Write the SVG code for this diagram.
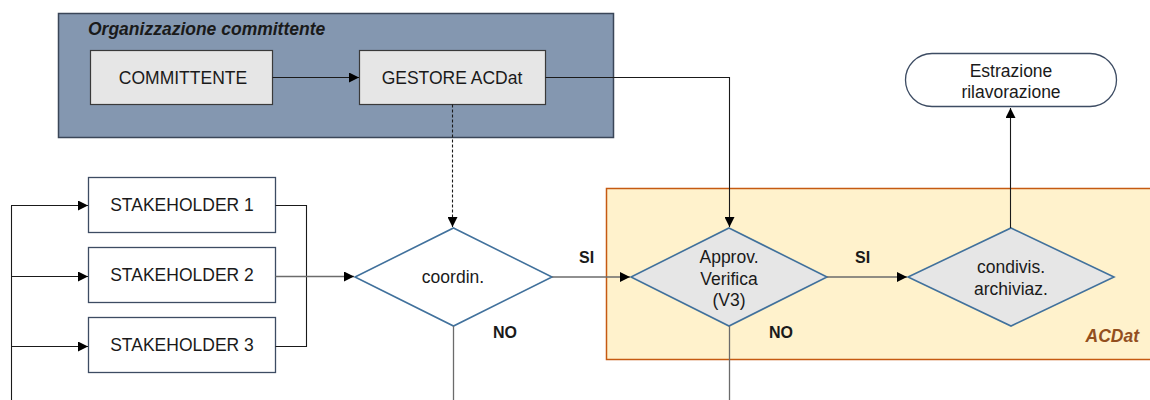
<svg xmlns="http://www.w3.org/2000/svg" width="1150" height="400" viewBox="0 0 1150 400">
<style>
text{font-family:"Liberation Sans",Arial,sans-serif;fill:#1a1a1a}
.t{font-size:17.5px;text-anchor:middle}
.b{font-size:16px;font-weight:bold}
.c{fill:none;stroke:#1a1a1a;stroke-width:1.1}
.g{fill:none;stroke:#6b6b6b;stroke-width:1.3}
.box{fill:#ffffff;stroke:#3d4c63;stroke-width:1.3}
.gbox{fill:#e6e6e6;stroke:#3a3a3a;stroke-width:1.2}
.dia{stroke:#41719c;stroke-width:1.6}
</style>
<defs>
<marker id="ah" viewBox="0 0 10 10" refX="10" refY="5" markerWidth="10" markerHeight="10" markerUnits="userSpaceOnUse" orient="auto">
<path d="M0,0 L10,5 L0,10 z" fill="#000"/>
</marker>
</defs>
<g id="acdat">
<rect x="606.5" y="188.5" width="560" height="171" fill="#fff2cc" stroke="#c55a11" stroke-width="1.5"/>
<text x="1139" y="342" style="font-size:17.5px;font-weight:bold;font-style:italic;fill:#934f1e;text-anchor:end">ACDat</text>
</g>
<g id="org">
<rect x="58.5" y="13.5" width="555" height="124" fill="#8497b0" stroke="#3a4658" stroke-width="1.5"/>
<text x="88" y="35" style="font-size:17.5px;font-weight:bold;font-style:italic">Organizzazione committente</text>
</g>
<g id="committente">
<rect class="gbox" x="90.5" y="50.5" width="182" height="54"/>
<text class="t" x="183" y="84">COMMITTENTE</text>
</g>
<g id="gestore">
<rect class="gbox" x="359.5" y="50.5" width="186" height="54"/>
<text class="t" x="452" y="84">GESTORE ACDat</text>
</g>
<g id="sh1">
<rect class="box" x="88.5" y="177.5" width="187" height="55"/>
<text class="t" x="182" y="211">STAKEHOLDER 1</text>
</g>
<g id="sh2">
<rect class="box" x="88.5" y="247.5" width="187" height="55"/>
<text class="t" x="182" y="281">STAKEHOLDER 2</text>
</g>
<g id="sh3">
<rect class="box" x="88.5" y="317.5" width="187" height="55"/>
<text class="t" x="182" y="351">STAKEHOLDER 3</text>
</g>
<g id="coordin">
<polygon class="dia" points="453.5,228 552,277 453.5,326 355,277" fill="#ffffff"/>
<text class="t" x="453" y="283">coordin.</text>
</g>
<g id="approv">
<polygon class="dia" points="729,228 827,277 729,326 631,277" fill="#e6e6e6"/>
<text class="t" x="729" y="263">Approv.</text>
<text class="t" x="729" y="284.5">Verifica</text>
<text class="t" x="729" y="306">(V3)</text>
</g>
<g id="condivis">
<polygon class="dia" points="1011,228 1114,277 1011,326 908,277" fill="#e6e6e6"/>
<text class="t" x="1011" y="273">condivis.</text>
<text class="t" x="1011" y="295">archiviaz.</text>
</g>
<g id="estrazione">
<rect x="905.5" y="53.5" width="211" height="53" rx="26.5" ry="26.5" fill="#ffffff" stroke="#3d4c63" stroke-width="1.3"/>
<text class="t" x="1011" y="77">Estrazione</text>
<text class="t" x="1011" y="98">rilavorazione</text>
</g>
<g id="connectors">
<path class="c" d="M272.5,77.5 H359" marker-end="url(#ah)"/>
<path class="c" d="M452.5,104.5 V227" stroke-dasharray="3,2" marker-end="url(#ah)"/>
<path class="c" d="M545.5,77.5 H729.5 V227" marker-end="url(#ah)"/>
<path class="c" d="M11.5,400 V205.5"/>
<path class="c" d="M11,205.5 H88" marker-end="url(#ah)"/>
<path class="c" d="M11,276.5 H88" marker-end="url(#ah)"/>
<path class="c" d="M11,346.5 H88" marker-end="url(#ah)"/>
<path class="c" d="M275.5,205.5 H306.5 V346.5 H275.5"/>
<path class="g" d="M275.5,276.5 H354" marker-end="url(#ah)"/>
<path class="g" d="M453.5,326 V400"/>
<path class="g" d="M552,277 H630" marker-end="url(#ah)"/>
<path class="g" d="M827,277 H907" marker-end="url(#ah)"/>
<path class="g" d="M729.5,326 V400"/>
<path class="c" d="M1010.5,228 V108" marker-end="url(#ah)"/>
<text class="b" x="579" y="263">SI</text>
<text class="b" x="493" y="338">NO</text>
<text class="b" x="855" y="263">SI</text>
<text class="b" x="769" y="338">NO</text>
</g>
</svg>
